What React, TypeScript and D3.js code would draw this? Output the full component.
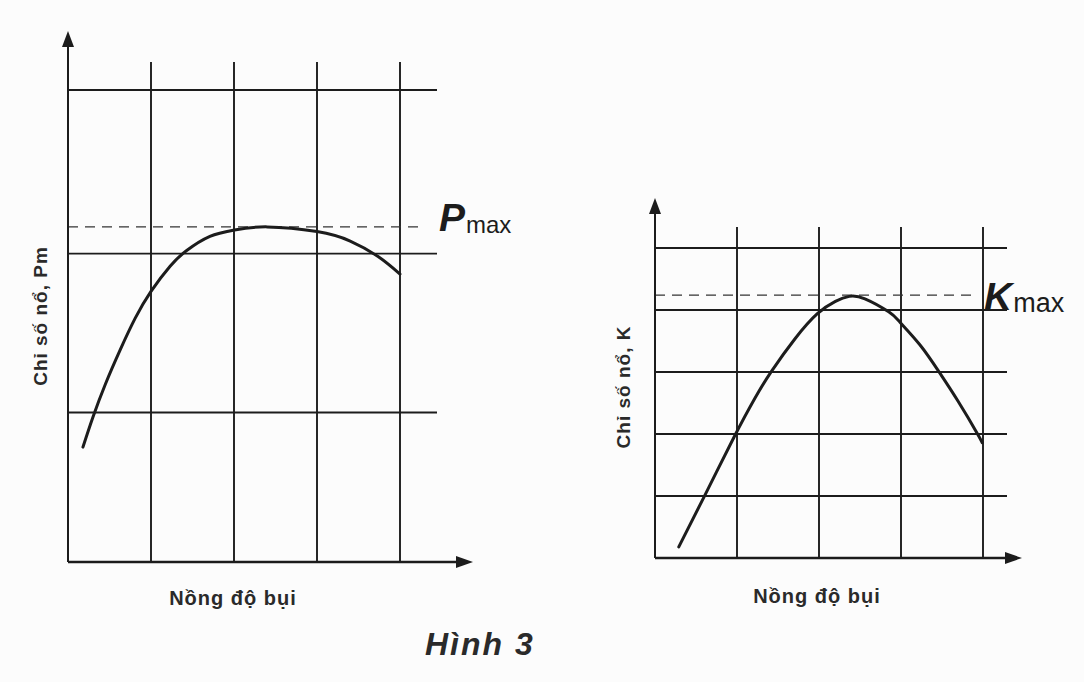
import * as d3 from 'd3';
import React, { useEffect, useRef } from 'react';

const W = 1084;
const H = 682;

// left panel: explosion pressure vs dust concentration
const pGridX = [1, 2, 3, 4];
const pGridY = [0.95, 1.96, 3];
const pMax = 2.13;
const pCurveX = [0.18, 0.3, 0.45, 0.63, 0.81, 1.0, 1.23, 1.43, 1.71, 2.0, 2.4, 3.0, 3.4, 3.74, 4.0];
const pCurveY = [0.73, 0.92, 1.13, 1.35, 1.55, 1.72, 1.88, 1.98, 2.07, 2.11, 2.13, 2.1, 2.04, 1.94, 1.83];

// right panel: explosion index K vs dust concentration
const kGridX = [1, 2, 3, 4];
const kGridY = [1, 2, 3, 4, 5];
const kMax = 4.24;
const kCurveX = [0.29, 0.6, 0.96, 1.22, 1.42, 1.71, 1.98, 2.2, 2.37, 2.56, 2.85, 2.99, 3.23, 3.46, 3.7, 3.93, 3.99];
const kCurveY = [0.18, 0.99, 1.94, 2.58, 3.01, 3.54, 3.94, 4.14, 4.22, 4.18, 3.97, 3.8, 3.44, 3.01, 2.52, 2.01, 1.86];

const xTitle = 'Nồng độ bụi';
const caption = 'Hình 3';

const INK = '#1c1c1c';
const LABEL_FONT = '"Liberation Sans", Arial, sans-serif';

type Panel = {
  gridX: number[];
  gridY: number[];
  max: number;
  cx: number[];
  cy: number[];
  yDomain: number;
  left: number;
  right: number;
  bottom: number;
  top: number;
  arrowX: number;
  arrowY: number;
  vTop: number;
  hRight: number;
  dashRight: number;
  yTitle: string;
  yTitlePos: [number, number];
  xTitlePos: [number, number];
  maxLetter: string;
  maxPos: [number, number];
  subSize: number;
};

const panels: Panel[] = [
  {
    gridX: pGridX, gridY: pGridY, max: pMax, cx: pCurveX, cy: pCurveY, yDomain: 3,
    left: 68, right: 400, bottom: 562, top: 90,
    arrowX: 473, arrowY: 31, vTop: 62, hRight: 437, dashRight: 424,
    yTitle: 'Chỉ số nổ, Pm', yTitlePos: [40, 316], xTitlePos: [233, 605],
    maxLetter: 'P', maxPos: [439, 231], subSize: 24,
  },
  {
    gridX: kGridX, gridY: kGridY, max: kMax, cx: kCurveX, cy: kCurveY, yDomain: 5,
    left: 655, right: 983, bottom: 558, top: 248,
    arrowX: 1022, arrowY: 198, vTop: 227, hRight: 1007, dashRight: 978,
    yTitle: 'Chỉ số nổ, K', yTitlePos: [623, 387], xTitlePos: [817, 603],
    maxLetter: 'K', maxPos: [984, 310], subSize: 27,
  },
];

function drawPanel(svg: d3.Selection<SVGSVGElement, unknown, null, undefined>, p: Panel) {
  const x = d3.scaleLinear().domain([0, 4]).range([p.left, p.right]);
  const y = d3.scaleLinear().domain([0, p.yDomain]).range([p.bottom, p.top]);
  const g = svg.append('g');

  // vertical grid lines
  g.selectAll('line.v')
    .data(p.gridX)
    .enter()
    .append('line')
    .attr('x1', d => x(d)).attr('x2', d => x(d))
    .attr('y1', p.bottom).attr('y2', p.vTop)
    .attr('stroke', INK).attr('stroke-width', 1.9);

  // horizontal grid lines
  g.selectAll('line.h')
    .data(p.gridY)
    .enter()
    .append('line')
    .attr('x1', p.left).attr('x2', p.hRight)
    .attr('y1', d => y(d)).attr('y2', d => y(d))
    .attr('stroke', INK).attr('stroke-width', 1.9);

  // dashed max line
  g.append('line')
    .attr('x1', p.left).attr('x2', p.dashRight)
    .attr('y1', y(p.max)).attr('y2', y(p.max))
    .attr('stroke', '#333').attr('stroke-width', 1.4)
    .attr('stroke-dasharray', '10 7');

  // axes with arrow heads
  g.append('line')
    .attr('x1', p.left).attr('x2', p.left)
    .attr('y1', p.bottom).attr('y2', p.arrowY + 10)
    .attr('stroke', INK).attr('stroke-width', 2);
  g.append('line')
    .attr('x1', p.left).attr('x2', p.arrowX - 10)
    .attr('y1', p.bottom).attr('y2', p.bottom)
    .attr('stroke', INK).attr('stroke-width', 2.4);
  g.append('path')
    .attr('d', `M${p.left},${p.arrowY} L${p.left - 6},${p.arrowY + 16} L${p.left + 6},${p.arrowY + 16} Z`)
    .attr('fill', INK);
  g.append('path')
    .attr('d', `M${p.arrowX},${p.bottom} L${p.arrowX - 17},${p.bottom - 6} L${p.arrowX - 17},${p.bottom + 6} Z`)
    .attr('fill', INK);

  // curve
  const pts = p.cx.map((v, i) => [v, p.cy[i]] as [number, number]);
  const line = d3.line<[number, number]>()
    .x(d => x(d[0]))
    .y(d => y(d[1]))
    .curve(d3.curveNatural);
  g.append('path')
    .attr('d', line(pts) as string)
    .attr('fill', 'none')
    .attr('stroke', INK)
    .attr('stroke-width', 3)
    .attr('stroke-linecap', 'round');

  // titles
  g.append('text')
    .attr('transform', `translate(${p.yTitlePos[0]},${p.yTitlePos[1]}) rotate(-90)`)
    .attr('text-anchor', 'middle')
    .attr('dominant-baseline', 'central')
    .attr('font-family', LABEL_FONT)
    .attr('font-weight', 'bold')
    .attr('font-size', 19)
    .attr('letter-spacing', 1)
    .attr('fill', '#2a2a2a')
    .text(p.yTitle);

  g.append('text')
    .attr('x', p.xTitlePos[0]).attr('y', p.xTitlePos[1])
    .attr('text-anchor', 'middle')
    .attr('font-family', LABEL_FONT)
    .attr('font-weight', 'bold')
    .attr('font-size', 20)
    .attr('letter-spacing', 1)
    .attr('fill', '#2a2a2a')
    .text(xTitle);

  const mt = g.append('text')
    .attr('x', p.maxPos[0]).attr('y', p.maxPos[1])
    .attr('font-family', LABEL_FONT)
    .attr('fill', INK);
  mt.append('tspan')
    .attr('font-size', 39)
    .attr('font-style', 'italic')
    .attr('font-weight', 'bold')
    .text(p.maxLetter);
  mt.append('tspan')
    .attr('font-size', p.subSize)
    .attr('dy', 2)
    .attr('dx', 1)
    .text('max');
}

function App() {
  const ref = useRef<SVGSVGElement>(null);

  useEffect(() => {
    const svg = d3.select(ref.current as SVGSVGElement);
    svg.selectAll('*').remove();

    svg.append('rect').attr('width', W).attr('height', H).attr('fill', '#fcfcfc');

    panels.forEach(p => drawPanel(svg, p));

    svg.append('text')
      .attr('x', 425).attr('y', 655)
      .attr('font-family', LABEL_FONT)
      .attr('font-style', 'italic')
      .attr('font-weight', 'bold')
      .attr('font-size', 32)
      .attr('letter-spacing', 2)
      .attr('fill', '#2a2a2a')
      .text(caption);
  });

  return (
    <svg
      ref={ref}
      width={W}
      height={H}
      style={{ position: 'absolute', left: 0, top: 0, display: 'block' }}
    />
  );
}

export default App;
